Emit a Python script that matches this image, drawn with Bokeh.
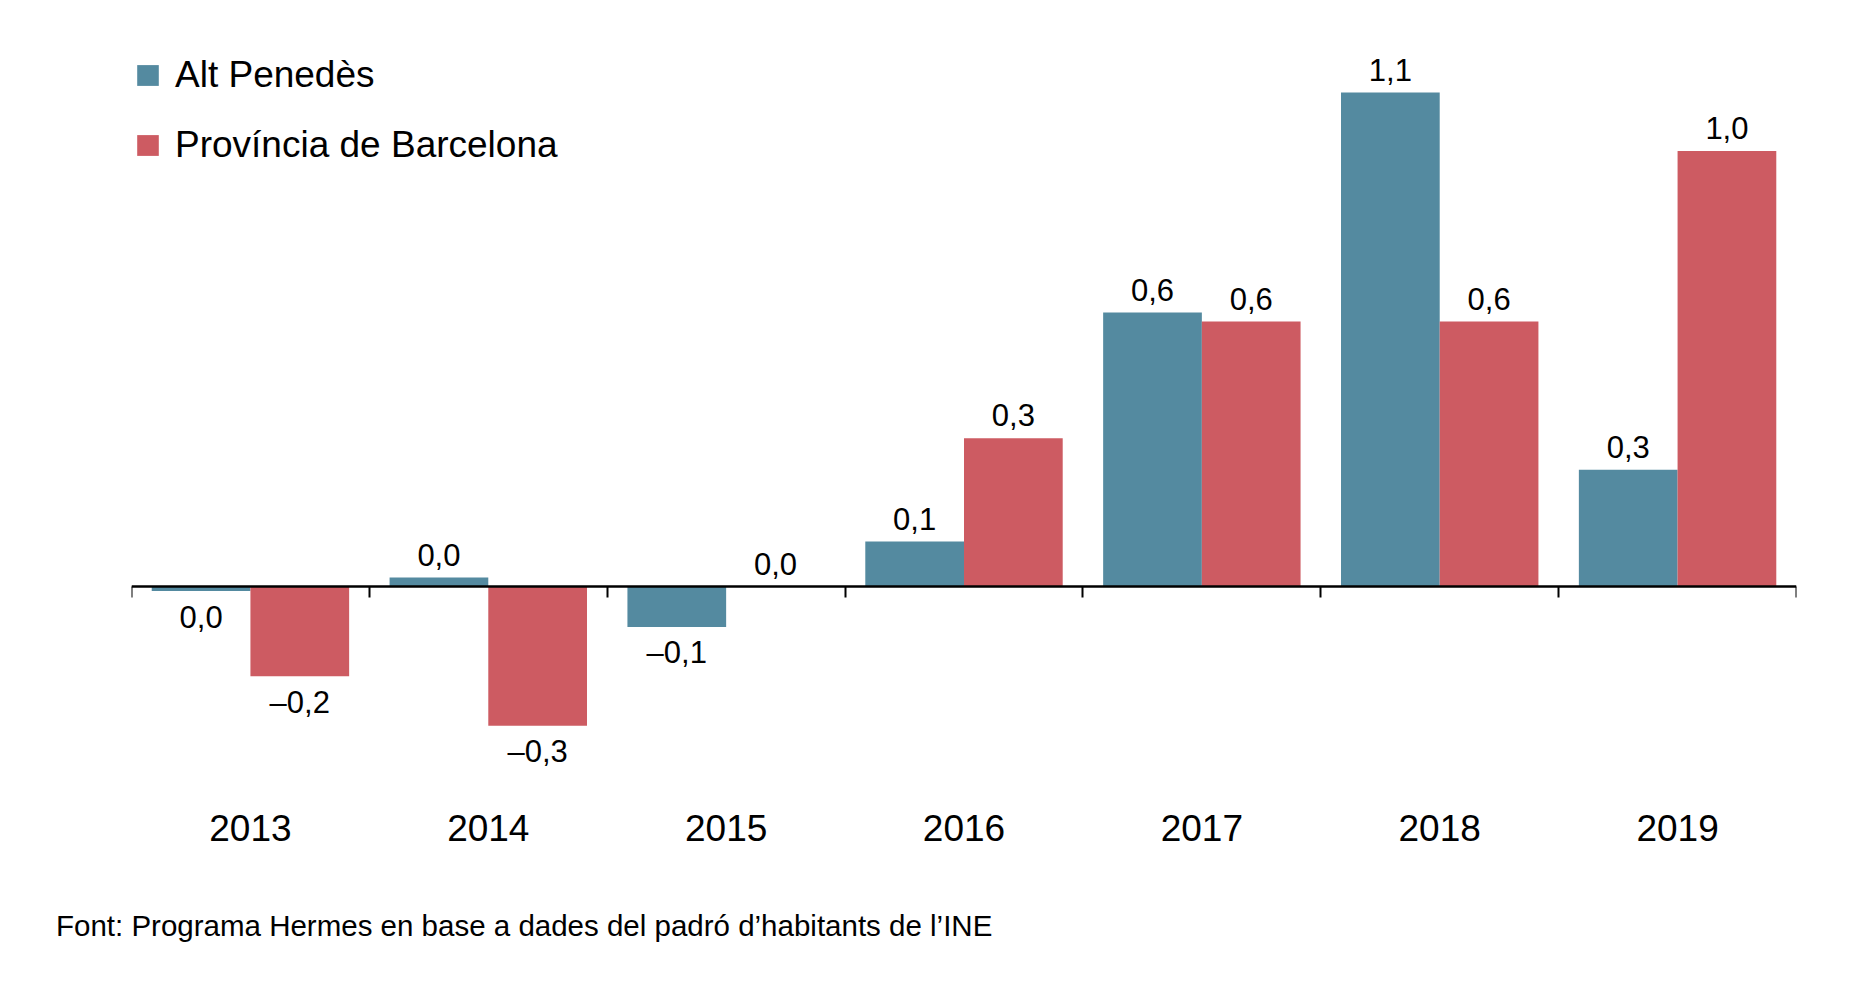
from bokeh.core.properties import value
from bokeh.embed import file_html
from bokeh.layouts import column
from bokeh.models import ColumnDataSource, Range1d, LinearAxis, FixedTicker, Legend, LegendItem, Div
from bokeh.plotting import figure
from bokeh.resources import INLINE

# dades
years = ["2013", "2014", "2015", "2016", "2017", "2018", "2019"]
alt_penedes = [-0.01, 0.02, -0.09, 0.10, 0.61, 1.10, 0.26]
prov_barcelona = [-0.20, -0.31, 0.00, 0.33, 0.59, 0.59, 0.97]
series_names = ["Alt Penedès", "Província de Barcelona"]
source_text = "Font: Programa Hermes en base a dades del padró d\u2019habitants de l\u2019INE"

colors = ["#548aa0", "#cd5b62"]
FONT = "Liberation Sans"
BAR_W = 0.415


def fmt(v):
    r = round(v, 1)
    s = f"{abs(r):.1f}".replace(".", ",")
    return "\u2013" + s if r < 0 else s


p = figure(width=1830, height=887,
           x_range=Range1d(-0.5, len(years) - 0.5),
           y_range=Range1d(-0.4298, 1.2405),
           y_axis_location=None,
           output_backend="svg", toolbar_location=None,
           min_border_left=131, min_border_right=34,
           min_border_top=29, min_border_bottom=108)
p.outline_line_color = None
p.grid.visible = False

renderers = []
for vals, off, col in zip([alt_penedes, prov_barcelona], [-BAR_W / 2, BAR_W / 2], colors):
    xs = [i + off for i in range(len(years))]
    r = p.vbar(x=xs, top=vals, bottom=0, width=BAR_W, fill_color=col, line_color=None)
    renderers.append(r)

    pos = ColumnDataSource(dict(x=[x for x, v in zip(xs, vals) if v >= 0],
                                y=[v for v in vals if v >= 0],
                                t=[fmt(v) for v in vals if v >= 0]))
    neg = ColumnDataSource(dict(x=[x for x, v in zip(xs, vals) if v < 0],
                                y=[v for v in vals if v < 0],
                                t=[fmt(v) for v in vals if v < 0]))
    for src, dy in [(pos, -23), (neg, 26)]:
        p.text(x="x", y="y", text="t", source=src, y_offset=dy,
               text_align="center", text_baseline="middle",
               text_font=value(FONT), text_font_size="31px", text_color="black")

# etiquetes d'anys
p.xaxis.ticker = FixedTicker(ticks=list(range(len(years))))
p.xaxis.major_label_overrides = {i: y for i, y in enumerate(years)}
p.xaxis.axis_line_color = None
p.xaxis.major_tick_line_color = None
p.xaxis.major_label_standoff = 29
p.xaxis.major_label_text_font = FONT
p.xaxis.major_label_text_font_size = "37px"
p.xaxis.major_label_text_color = "black"

# eix a zero, amb marques entre categories (marques menors, sense etiquetes)
zero_axis = LinearAxis(fixed_location=0,
                       ticker=FixedTicker(ticks=[], minor_ticks=[i - 0.5 for i in range(len(years) + 1)]),
                       axis_line_width=2.5, axis_line_color="black",
                       major_tick_line_color=None,
                       minor_tick_line_width=2, minor_tick_line_color="black",
                       minor_tick_in=0, minor_tick_out=11)
p.add_layout(zero_axis, "below")

legend = Legend(items=[LegendItem(label=n, renderers=[r]) for n, r in zip(series_names, renderers)],
                location=(3, 613), glyph_width=27, glyph_height=26, label_height=40,
                label_standoff=14, spacing=28, padding=0, margin=0,
                label_text_font=FONT, label_text_font_size="37px", label_text_color="black",
                border_line_color=None, background_fill_alpha=0)
p.add_layout(legend)

footer = Div(text=source_text, width=1300, margin=(18, 0, 0, 56),
             styles={"font-family": FONT, "font-size": "29.5px", "color": "black"})

layout = column(p, footer, spacing=0)
open("out.html", "w").write(file_html(layout, INLINE))
